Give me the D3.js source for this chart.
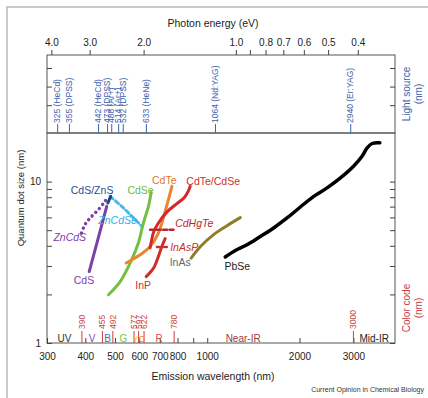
<!DOCTYPE html>
<html>
<head>
<meta charset="utf-8">
<script src="https://cdn.jsdelivr.net/npm/d3@7"></script>
<style>
  body { margin: 0; background: #fff; }
  svg { display: block; font-family: "Liberation Sans", Arial, sans-serif; }
</style>
</head>
<body>
<script>
// emission wavelength (nm) vs quantum dot size (nm)
const cdsData = [[412, 2.77], [470, 7.02]];
const znCdSData = [[389, 4.80], [399, 5.41], [415, 5.95], [441, 6.70], [464, 7.55], [476, 8.10]];
const cdsZnsData = [[474, 7.37], [484, 8.10]];
const znCdSeData = [[482, 8.10], [533, 6.86], [582, 5.81], [612, 5.28]];
const cdSeData = [[476, 1.99], [520, 2.40], [567, 3.28], [596, 4.16], [619, 5.54], [643, 7.02], [656, 8.55]];
const cdTeData = [[544, 3.13], [604, 3.52], [651, 3.96], [693, 4.80], [729, 6.54], [767, 9.35]];
const cdTeCdSeData = [[651, 3.89], [659, 4.36], [669, 4.89], [693, 5.54], [738, 6.47], [796, 7.30], [841, 7.95], [869, 8.80], [880, 9.35]];
const cdHgTeData = [[651, 5.03], [776, 5.03]];
const inPData = [[632, 2.58], [668, 2.91], [693, 3.44], [711, 3.96], [729, 4.43]];
const inAsPData = [[685, 3.93], [738, 3.93]];
const inAsData = [[886, 3.36], [949, 3.95], [1049, 4.69], [1160, 5.33], [1282, 5.98]];
const pbSeData = [[1145, 3.41], [1235, 3.74], [1348, 4.06], [1490, 4.57], [1647, 5.16], [1822, 5.95], [2013, 6.96],
  [2226, 8.10], [2461, 9.14], [2721, 10.54], [3002, 12.45], [3201, 14.36], [3326, 16.19], [3453, 17.22], [3657, 17.39]];

// label anchors in data units: [text, nm, size]
const curveLabels = [
  ["CdS/ZnS", 421, 8.80], ["ZnCdS", 356, 4.49], ["ZnCdSe", 510, 5.77], ["CdS", 396, 2.43],
  ["CdSe", 606, 8.80], ["CdTe", 724, 10.2], ["CdTe/CdSe", 1046, 10.0], ["CdHgTe", 907, 5.49],
  ["InAsP", 841, 3.92], ["InP", 618, 2.29], ["InAs", 816, 3.14], ["PbSe", 1253, 2.97]
];

// light sources
const lightNm = [325, 355, 442, 473, 488, 514, 532, 633, 1064, 2940];
const lightNames = ["HeCd", "DPSS", "HeCd", "DPSS", "Ar+", "Ar+", "DPSS", "HeNe", "Nd:YAG", "Er:YAG"];

// colour code
const colorNm = [390, 455, 492, 577, 597, 622, 780, 3000];
const bandNames = ["UV", "V", "B", "G", "Y", "O", "R", "Near-IR", "Mid-IR"];
const bandNm = [342, 421, 473, 533, 584, 612, 697, 1310, 3507];

// ticks
const nmTicks = [300, 400, 500, 600, 700, 800, 900, 1000, 2000, 3000];
const eVTicks = [4, 3, 2, 1, 0.9, 0.8, 0.7, 0.6, 0.5, 0.4];
const sizeTicks = [1, 2, 3, 4, 5, 6, 7, 8, 9, 10];
const lsTicks = [1.5, 2.5, 3.5];

const width = 428;
const height = 398;

const x = d3.scaleLog().domain([300, 4100]).range([47, 395]);
const eV = d3.scaleLog().domain([1240 / 300, 1240 / 4100]).range([47, 395]);
const y = d3.scaleLog().domain([1, 20]).range([343, 133]);
const ls = d3.scaleLinear().domain([0, 4.2]).range([133, 55]);

const svg = d3.create("svg")
  .attr("width", width)
  .attr("height", height);

// outer page border
svg.append("path")
  .attr("d", `M7,${height}V7H${width}`)
  .attr("fill", "none")
  .attr("stroke", "#b8b8b8")
  .attr("stroke-width", 1.5);

// frames
svg.append("rect")
  .attr("x", 47).attr("y", 55).attr("width", 348).attr("height", 78)
  .attr("fill", "none").attr("stroke", "#555").attr("stroke-width", 1);
svg.append("rect")
  .attr("x", 47).attr("y", 133).attr("width", 348).attr("height", 210)
  .attr("fill", "none").attr("stroke", "#555").attr("stroke-width", 1);

function styleAxis(g) {
  g.select(".domain").remove();
  g.selectAll("line").attr("stroke", "#444");
  g.selectAll("text").attr("font-size", 10).attr("fill", "#222").attr("font-family", null);
}

// bottom axis
svg.append("g")
  .attr("transform", "translate(0,343)")
  .call(d3.axisBottom(x).tickValues(nmTicks).tickFormat(d => d === 900 ? "" : d).tickSize(-5).tickPadding(10))
  .call(styleAxis);

// top axis (photon energy)
svg.append("g")
  .attr("transform", "translate(0,55)")
  .call(d3.axisTop(eV).tickValues(eVTicks).tickFormat(d => d === 0.9 ? "" : d3.format(".1f")(d)).tickSize(5).tickPadding(4))
  .call(styleAxis);

// left and right size axes
svg.append("g")
  .attr("transform", "translate(47,0)")
  .call(d3.axisLeft(y).tickValues(sizeTicks).tickFormat(d => (d === 1 || d === 10) ? d : "").tickSize(-5).tickPadding(6))
  .call(styleAxis);
svg.append("g")
  .attr("transform", "translate(395,0)")
  .call(d3.axisRight(y).tickValues(sizeTicks).tickFormat("").tickSize(-5))
  .call(styleAxis);

// light source panel ticks
svg.append("g")
  .attr("transform", "translate(47,0)")
  .call(d3.axisLeft(ls).tickValues(lsTicks).tickFormat("").tickSize(-5))
  .call(styleAxis);
svg.append("g")
  .attr("transform", "translate(395,0)")
  .call(d3.axisRight(ls).tickValues(lsTicks).tickFormat("").tickSize(-5))
  .call(styleAxis);

// light sources
const lsBlue = "#3d62ad";
const lsG = svg.append("g");
lsG.selectAll("line")
  .data(lightNm)
  .join("line")
  .attr("x1", d => x(d)).attr("x2", d => x(d))
  .attr("y1", 133).attr("y2", 124)
  .attr("stroke", lsBlue).attr("stroke-width", 1);
lsG.selectAll("text")
  .data(lightNm)
  .join("text")
  .attr("transform", d => `translate(${x(d) - 0.5},123) rotate(-90)`)
  .attr("dy", "0.35em")
  .attr("font-size", 8.5)
  .attr("fill", lsBlue)
  .text((d, i) => `${d} (${lightNames[i]})`);

// colour code
const codeRed = "#c9413f";
const ccG = svg.append("g");
ccG.selectAll("line")
  .data(colorNm)
  .join("line")
  .attr("x1", d => x(d)).attr("x2", d => x(d))
  .attr("y1", 343).attr("y2", 331)
  .attr("stroke", codeRed).attr("stroke-width", 1);
ccG.selectAll("text")
  .data(colorNm)
  .join("text")
  .attr("transform", d => `translate(${x(d)},329) rotate(-90)`)
  .attr("dy", "0.35em")
  .attr("font-size", 8.5)
  .attr("fill", codeRed)
  .text(d => d);

const bandColors = ["#333", "#8a4aa8", "#3e6fc0", "#7cc243", "#f2c500", "#ee8a2a", "#d2504c", "#a03a3a", "#222"];
svg.append("g")
  .selectAll("text")
  .data(bandNames)
  .join("text")
  .attr("x", (d, i) => x(bandNm[i]))
  .attr("y", 341.5)
  .attr("text-anchor", "middle")
  .attr("font-size", (d, i) => (i === 4 || i === 5) ? 8.5 : 10)
  .attr("fill", (d, i) => bandColors[i])
  .text(d => d);

// curves
const line = d3.line()
  .x(d => x(d[0]))
  .y(d => y(d[1]))
  .curve(d3.curveCatmullRom);

const curves = [
  { data: cdsData, color: "#7b3fa6", dash: null, w: 3 },
  { data: znCdSData, color: "#7b3fa6", dash: "0.1 5", w: 3.4 },
  { data: znCdSeData, color: "#4fb6e6", dash: "4 3", w: 3 },
  { data: cdsZnsData, color: "#1f3f8f", dash: null, w: 3 },
  { data: cdSeData, color: "#74bf40", dash: null, w: 3 },
  { data: cdTeData, color: "#ea8630", dash: null, w: 3 },
  { data: cdTeCdSeData, color: "#d4282a", dash: null, w: 3 },
  { data: cdHgTeData, color: "#b32b2d", dash: "4 2.5", w: 2.5 },
  { data: inPData, color: "#cf2f2a", dash: null, w: 3 },
  { data: inAsPData, color: "#cf2f2a", dash: "2.5 2", w: 2.5 },
  { data: inAsData, color: "#8f7d27", dash: null, w: 3 },
  { data: pbSeData, color: "#000", dash: null, w: 3.5 }
];

svg.append("g")
  .attr("fill", "none")
  .attr("stroke-linecap", "round")
  .attr("stroke-linejoin", "round")
  .selectAll("path")
  .data(curves)
  .join("path")
  .attr("stroke", d => d.color)
  .attr("stroke-width", d => d.w)
  .attr("stroke-dasharray", d => d.dash)
  .attr("d", d => line(d.data));

const labelColors = {
  "CdS/ZnS": "#2c4b9b", "ZnCdS": "#7b3fa6", "ZnCdSe": "#35aee6", "CdS": "#7b3fa6",
  "CdSe": "#6cbb3c", "CdTe": "#e07b2a", "CdTe/CdSe": "#c8312d", "CdHgTe": "#b5272d",
  "InAsP": "#c8312d", "InP": "#c8312d", "InAs": "#666", "PbSe": "#222"
};
const italic = ["ZnCdS", "ZnCdSe", "CdHgTe", "InAsP"];

svg.append("g")
  .selectAll("text")
  .data(curveLabels)
  .join("text")
  .attr("x", d => x(d[1]))
  .attr("y", d => y(d[2]))
  .attr("dy", "0.35em")
  .attr("text-anchor", "middle")
  .attr("font-size", 10.5)
  .attr("font-style", d => italic.includes(d[0]) ? "italic" : null)
  .attr("fill", d => labelColors[d[0]])
  .text(d => d[0]);

// titles
svg.append("text")
  .attr("x", 213).attr("y", 27)
  .attr("text-anchor", "middle").attr("font-size", 10.5).attr("fill", "#222")
  .text("Photon energy (eV)");
svg.append("text")
  .attr("x", 213).attr("y", 380)
  .attr("text-anchor", "middle").attr("font-size", 10.5).attr("fill", "#222")
  .text("Emission wavelength (nm)");
svg.append("text")
  .attr("transform", "translate(21,198) rotate(-90)")
  .attr("dy", "0.35em")
  .attr("text-anchor", "middle").attr("font-size", 9.5).attr("fill", "#222")
  .text("Quantum dot size (nm)");

function sideTitle(lines, cy, color) {
  svg.append("g")
    .selectAll("text")
    .data(lines)
    .join("text")
    .attr("transform", (d, i) => `translate(${406 + i * 12},${cy}) rotate(-90)`)
    .attr("dy", "0.35em")
    .attr("text-anchor", "middle")
    .attr("font-size", 10)
    .attr("fill", color)
    .text(d => d);
}
sideTitle(["Light source", "(nm)"], 94, lsBlue);
sideTitle(["Color code", "(nm)"], 308, codeRed);

svg.append("text")
  .attr("x", 424).attr("y", 392)
  .attr("text-anchor", "end").attr("font-size", 7).attr("fill", "#333")
  .text("Current Opinion in Chemical Biology");

document.body.appendChild(svg.node());
</script>
</body>
</html>
